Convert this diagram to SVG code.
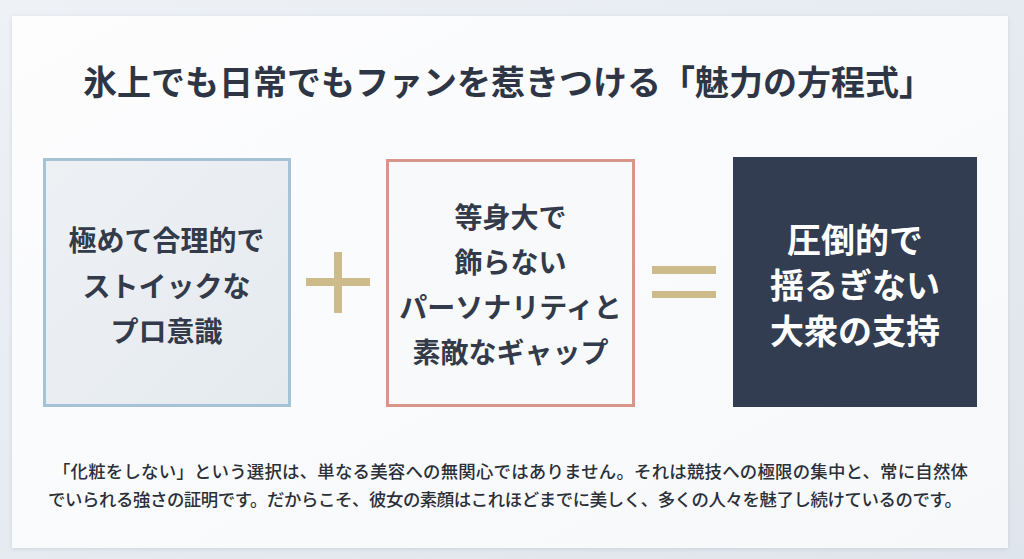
<svg xmlns="http://www.w3.org/2000/svg" width="1024" height="559" viewBox="0 0 1024 559">
  <defs>
    <linearGradient id="bg" x1="0" y1="0" x2="1" y2="1">
      <stop offset="0" stop-color="#eef1f5"/>
      <stop offset="0.5" stop-color="#e6ebf1"/>
      <stop offset="1" stop-color="#dfe5ec"/>
    </linearGradient>
    <linearGradient id="card" x1="0" y1="0" x2="1" y2="1">
      <stop offset="0" stop-color="#fdfdfe"/>
      <stop offset="1" stop-color="#f6f8fa"/>
    </linearGradient>
    <linearGradient id="b1" x1="0" y1="0" x2="1" y2="1">
      <stop offset="0" stop-color="#eef1f4"/>
      <stop offset="1" stop-color="#e5eaef"/>
    </linearGradient>
    <filter id="sh" x="-5%" y="-5%" width="110%" height="110%">
      <feDropShadow dx="0" dy="1" stdDeviation="2" flood-color="#9aa8b8" flood-opacity="0.35"/>
    </filter>
  </defs>
  <style>
    .t { font-family: "Noto Sans CJK JP", "Noto Sans", sans-serif; }
    .title { font-size: 34px; font-weight: 700; fill: #2e3646; }
    .box { font-size: 28px; font-weight: 700; fill: #333b4a; }
    .boxw { font-size: 34px; font-weight: 700; fill: #ffffff; }
    .para { font-size: 17.4px; font-weight: 500; fill: #2a2f38; }
    .gold { fill: #cdbb8c; }
  </style>
  <rect x="0" y="0" width="1024" height="559" fill="url(#bg)"/>
  <rect x="12" y="16" width="996" height="532" fill="url(#card)" filter="url(#sh)"/>

  <g id="title">
    <text class="t title" x="508" y="95" text-anchor="middle">氷上でも日常でもファンを惹きつける「魅力の方程式」</text>
  </g>

  <g id="node-pro">
    <rect x="44.5" y="159.5" width="245" height="246" fill="url(#b1)" stroke="#a5c3d5" stroke-width="3"/>
    <text class="t box" text-anchor="middle" x="166.5" y="251">極めて合理的で</text>
    <text class="t box" text-anchor="middle" x="166.5" y="297">ストイックな</text>
    <text class="t box" text-anchor="middle" x="166.5" y="342">プロ意識</text>
  </g>

  <g id="node-personality">
    <rect x="387.5" y="160.5" width="246" height="245" fill="#f8f9fb" stroke="#d8968a" stroke-width="3"/>
    <text class="t box" text-anchor="middle" x="510.5" y="228">等身大で</text>
    <text class="t box" text-anchor="middle" x="510.5" y="273">飾らない</text>
    <text class="t box" text-anchor="middle" x="510.5" y="318">パーソナリティと</text>
    <text class="t box" text-anchor="middle" x="510.5" y="363">素敵なギャップ</text>
  </g>

  <g id="node-support">
    <rect x="733" y="157" width="244" height="250" fill="#323d51"/>
    <text class="t boxw" text-anchor="middle" x="855" y="253">圧倒的で</text>
    <text class="t boxw" text-anchor="middle" x="855" y="298">揺るぎない</text>
    <text class="t boxw" text-anchor="middle" x="855" y="344">大衆の支持</text>
  </g>

  <g id="connectors">
    <rect class="gold" x="334" y="252" width="8" height="61"/>
    <rect class="gold" x="306" y="278" width="64" height="8"/>
    <rect class="gold" x="652" y="266" width="64" height="8"/>
    <rect class="gold" x="652" y="291" width="64" height="7"/>
  </g>

  <g id="caption">
    <text class="t para" x="53" y="478" textLength="915" lengthAdjust="spacing">「化粧をしない」という選択は、単なる美容への無関心ではありません。それは競技への極限の集中と、常に自然体</text>
    <text class="t para" x="48" y="506" textLength="914" lengthAdjust="spacing">でいられる強さの証明です。だからこそ、彼女の素顔はこれほどまでに美しく、多くの人々を魅了し続けているのです。</text>
  </g>
</svg>
